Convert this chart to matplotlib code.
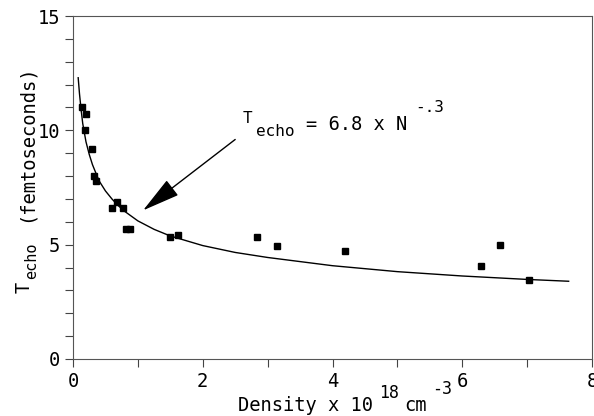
import matplotlib
matplotlib.use('Agg')
import matplotlib.pyplot as plt
from matplotlib.ticker import MultipleLocator

plt.rcParams['font.family'] = 'DejaVu Sans Mono'

# measured points (density in 1e18 cm^-3, echo time in fs)
density = [0.14, 0.20, 0.18, 0.29, 0.32, 0.35, 0.60, 0.68, 0.77, 0.81, 0.88,
           1.50, 1.62, 2.83, 3.14, 4.19, 6.29, 6.58, 7.03]
t_echo = [11.0, 10.7, 10.0, 9.2, 8.0, 7.8, 6.6, 6.85, 6.6, 5.7, 5.7,
          5.35, 5.42, 5.33, 4.94, 4.72, 4.07, 4.98, 3.45]

# fit curve
fit_x = [0.08, 0.1, 0.125, 0.15, 0.2, 0.25, 0.3, 0.4, 0.5, 0.6, 0.7, 0.8, 1.0,
         1.25, 1.5, 2.0, 2.5, 3.0, 3.5, 4.0, 5.0, 6.0, 7.0, 7.64]
fit_y = [12.3, 11.6, 10.9, 10.3, 9.5, 8.95, 8.5, 7.8, 7.35, 7.0, 6.7, 6.45, 6.04,
         5.67, 5.38, 4.96, 4.66, 4.44, 4.26, 4.08, 3.82, 3.63, 3.48, 3.40]

W, H = 594, 416
fig = plt.figure(figsize=(W / 100, H / 100), dpi=100)
ax = fig.add_axes([73 / W, 1 - 359 / H, 519 / W, 343 / H])


def px_text(x, y, s, size, **kw):
    # place text by pixel position (from top-left), anchored at baseline start
    fig.text(x / W, 1 - y / H, s, fontsize=size, ha='left', va='baseline',
             rotation_mode='anchor', **kw)


ax.plot(fit_x, fit_y, color='black', lw=1.0)
ax.plot(density, t_echo, 's', color='black', ms=4.5)

ax.set_xlim(0, 8)
ax.set_ylim(0, 15)
ax.xaxis.set_major_locator(MultipleLocator(2))
ax.xaxis.set_minor_locator(MultipleLocator(1))
ax.yaxis.set_major_locator(MultipleLocator(5))
ax.yaxis.set_minor_locator(MultipleLocator(1))
ax.tick_params(which='both', direction='out', labelsize=13.5, width=0.8,
               length=6, color='#444444')
for s in ax.spines.values():
    s.set_linewidth(0.8)
    s.set_color('#555555')

# y label
px_text(30, 293, 'T', 13.5, rotation=90)
px_text(36, 279, 'echo', 11, rotation=90)
px_text(32, 222, '(femtoseconds)', 13.5, rotation=90)

# x label
px_text(238, 411, 'Density x 10', 13.5)
px_text(379, 398, '18', 12)
px_text(404, 411, 'cm', 13.5)
px_text(432, 394, '-3', 12)

# annotation
ax.annotate('', xy=(1.08, 6.5), xytext=(2.5, 9.6),
            arrowprops=dict(arrowstyle='-|>,head_length=2.4,head_width=0.6',
                            color='black', lw=1.0, shrinkA=0, shrinkB=0))
px_text(243, 123, 'T', 11.5)
px_text(256, 136, 'echo', 11.5)
px_text(306, 130, '= 6.8 x N', 13.5)
px_text(415, 112, '-.3', 11.5)

fig.savefig('out.png', dpi=100)
